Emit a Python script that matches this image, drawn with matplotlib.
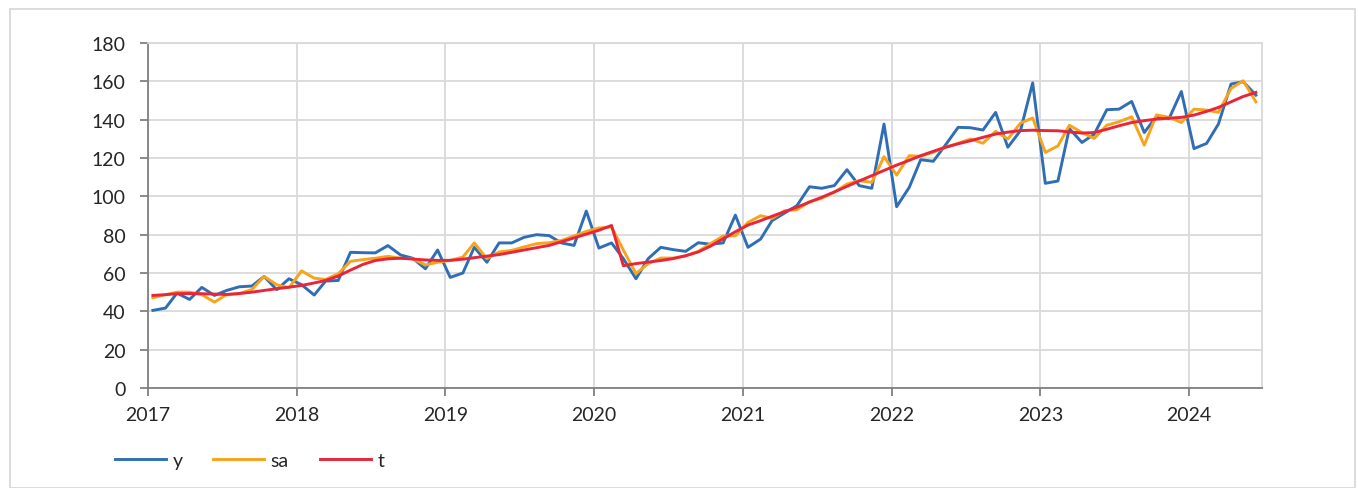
import matplotlib.pyplot as plt
import matplotlib.dates as mdates
from matplotlib.patches import Rectangle
import pandas as pd

plt.rcParams['font.family'] = ['Lato', 'DejaVu Sans']

dates = pd.date_range('2017-01-01', periods=90, freq='MS') + pd.Timedelta(days=12)

y = [40.5, 41.7, 49.5, 46.2, 52.5, 48.3, 50.9, 52.8, 53.2, 58.2, 51.3, 57.0,
     53.9, 48.5, 55.8, 56.1, 70.8, 70.6, 70.5, 74.3, 69.4, 67.7, 62.2, 72.0,
     57.7, 60.0, 73.4, 65.6, 75.7, 75.7, 78.6, 80.0, 79.5, 75.7, 74.4, 92.3,
     73.0, 75.7, 67.5, 57.0, 67.5, 73.4, 72.2, 71.3, 75.8, 75.0, 75.7, 90.2,
     73.4, 77.7, 87.3, 91.3, 95.1, 105.0, 104.2, 105.6, 113.9, 105.6, 104.2, 137.7,
     94.6, 104.7, 119.1, 118.3, 126.8, 136.0, 135.8, 134.6, 143.8, 125.6, 134.3, 159.2,
     106.8, 108.0, 135.4, 128.1, 132.4, 145.2, 145.5, 149.5, 133.3, 141.7, 140.6, 154.7,
     124.9, 127.6, 137.7, 158.6, 159.8, 152.8]

sa = [47.1, 48.7, 50.0, 50.0, 48.7, 44.8, 48.7, 49.2, 51.4, 58.2, 53.9, 52.3,
      61.1, 57.3, 56.6, 59.6, 66.1, 67.0, 67.7, 68.7, 67.7, 67.4, 64.2, 65.6,
      66.6, 68.3, 75.7, 67.5, 71.0, 71.8, 73.6, 75.3, 75.8, 77.0, 79.3, 81.7,
      83.5, 84.0, 72.0, 59.7, 64.9, 67.8, 67.8, 68.9, 71.3, 75.3, 79.3, 79.4,
      86.4, 89.9, 88.5, 92.5, 93.0, 97.2, 99.0, 102.1, 106.4, 108.2, 107.3, 120.7,
      111.1, 121.2, 120.9, 123.0, 125.6, 127.7, 129.9, 127.7, 133.9, 129.9, 138.2, 140.9,
      122.9, 126.3, 137.1, 133.3, 130.2, 137.1, 138.9, 141.5, 126.7, 142.5, 141.2, 138.5,
      145.5, 145.0, 143.8, 156.3, 160.3, 149.3]

t = [48.3, 48.7, 49.2, 49.3, 49.2, 49.0, 48.8, 49.3, 50.0, 50.9, 51.8, 52.6,
     53.5, 54.8, 56.1, 58.4, 61.5, 64.5, 66.5, 67.4, 67.7, 67.3, 66.8, 66.6,
     66.6, 67.2, 68.0, 68.8, 69.6, 70.8, 72.0, 73.2, 74.4, 76.3, 78.3, 80.3,
     82.3, 84.8, 63.8, 64.9, 65.7, 66.5, 67.5, 69.0, 71.0, 74.0, 77.9, 81.5,
     85.0, 87.3, 89.6, 92.0, 94.3, 97.0, 99.5, 102.3, 105.2, 108.0, 110.8, 113.5,
     116.3, 118.8, 121.2, 123.5, 125.6, 127.4, 129.0, 130.8, 132.5, 133.5, 134.3, 134.5,
     134.3, 134.2, 133.6, 133.0, 133.3, 135.0, 136.8, 138.5, 139.5, 140.3, 140.8, 141.2,
     142.4, 144.3, 146.4, 149.3, 152.1, 154.2]

fig = plt.figure(figsize=(13.58, 4.89), dpi=100)
ax = fig.add_axes([0.109, 0.2045, 0.820, 0.7055])

ax.plot(dates, y, color='#2f6eb5', lw=2.1, label='y')
ax.plot(dates, sa, color='#f9a31b', lw=2.1, label='sa')
ax.plot(dates, t, color='#e8253a', lw=2.1, label='t')

ax.set_ylim(0, 180)
ax.set_yticks(range(0, 181, 20))
ax.set_xlim(pd.Timestamp('2017-01-01'), pd.Timestamp('2024-06-27'))
ax.xaxis.set_major_locator(mdates.YearLocator())
ax.xaxis.set_major_formatter(mdates.DateFormatter('%Y'))

ax.grid(True, color='#d9d9d9', lw=1.3)
ax.set_axisbelow(True)
for s in ['top', 'right']:
    ax.spines[s].set_color('#d9d9d9')
    ax.spines[s].set_linewidth(1.3)
for s in ['left', 'bottom']:
    ax.spines[s].set_color('#808080')
    ax.spines[s].set_linewidth(1.3)
ax.tick_params(axis='both', color='#808080', length=6, width=1.3,
               labelsize=14, labelcolor='#262626')
ax.tick_params(axis='y', pad=10)
ax.tick_params(axis='x', pad=7)

ax.legend(loc='center left', bbox_to_anchor=(0.0775, 0.057), bbox_transform=fig.transFigure,
          ncol=3, frameon=False, fontsize=14, handlelength=2.6, columnspacing=1.6,
          handletextpad=0.35, labelcolor='#262626', borderpad=0)

fig.patches.append(Rectangle((0.0075, 0.0), 0.99, 0.98, transform=fig.transFigure,
                             fill=False, edgecolor='#d9d9d9', lw=1.3))

fig.savefig('out.png', dpi=100)
